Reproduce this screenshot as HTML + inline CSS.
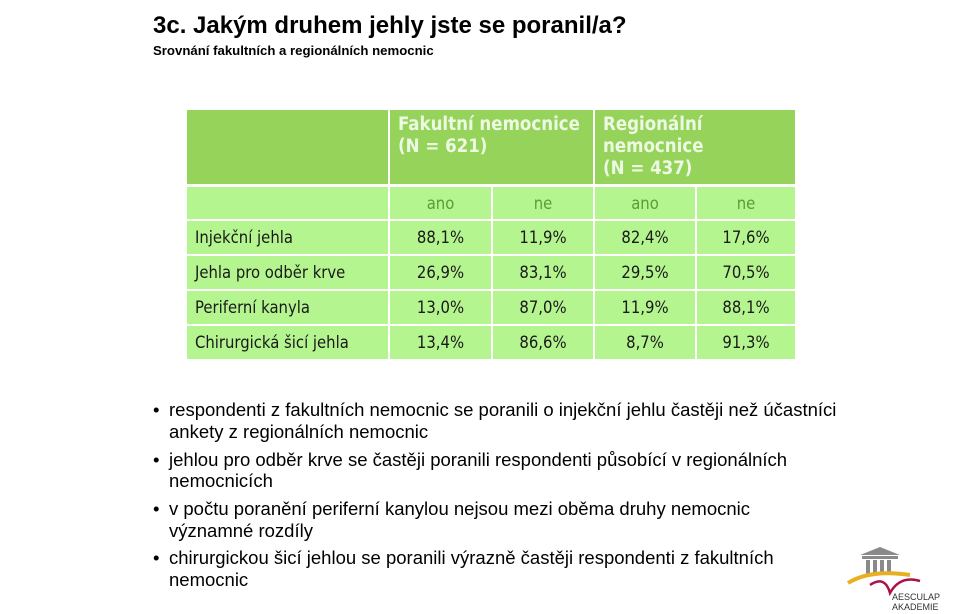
<!DOCTYPE html>
<html><head><meta charset="utf-8">
<style>
body{margin:0;width:960px;height:614px;background:#fff;position:relative;overflow:hidden;font-family:"Liberation Sans",sans-serif;}
.title{position:absolute;left:153px;top:12px;font-size:24px;font-weight:bold;color:#000;}
.sub{position:absolute;left:153px;top:43px;font-size:13.2px;font-weight:bold;color:#000;}
.cell{position:absolute;font-family:"DejaVu Sans Condensed","DejaVu Sans",sans-serif;font-size:16.5px;display:flex;align-items:center;box-sizing:border-box;}
.hd{background:#95d35a;color:#eef9e4;font-weight:bold;font-size:18.5px;align-items:flex-start;padding:4px 0 0 8px;line-height:22px;}
.bd{background:#b5f58f;color:#1a1a1a;justify-content:center;}
.lbl{justify-content:flex-start;padding-left:8px;}
.sh{color:#5c9c33;}
.bul{position:absolute;left:153px;font-size:18.5px;color:#000;white-space:nowrap;}
.bul span.d{display:inline-block;width:16px;}
</style></head><body>
<div class="title">3c. Jakým druhem jehly jste se poranil/a?</div>
<div class="sub">Srovnání fakultních a regionálních nemocnic</div>
<div id="tbl"></div>
<div>
<div class="bul" style="top:399px"><span class="d">•</span>respondenti z fakultních nemocnic se poranili o injekční jehlu častěji než účastníci</div>
<div class="bul" style="top:421px;left:169px">ankety z regionálních nemocnic</div>
<div class="bul" style="top:449px"><span class="d">•</span>jehlou pro odběr krve se častěji poranili respondenti působící v regionálních</div>
<div class="bul" style="top:470px;left:169px">nemocnicích</div>
<div class="bul" style="top:498px"><span class="d">•</span>v počtu poranění periferní kanylou nejsou mezi oběma druhy nemocnic</div>
<div class="bul" style="top:520px;left:169px">významné rozdíly</div>
<div class="bul" style="top:547px"><span class="d">•</span>chirurgickou šicí jehlou se poranili výrazně častěji respondenti z fakultních</div>
<div class="bul" style="top:569px;left:169px">nemocnic</div>
</div>
<svg style="position:absolute;left:840px;top:545px" width="110" height="68">
<polygon points="20,10 40,2 60,10" fill="#8a8a8a"/>
<rect x="22" y="11" width="36" height="3" fill="#8a8a8a"/>
<rect x="26" y="15" width="4" height="14" fill="#8a8a8a"/><rect x="33" y="15" width="4" height="14" fill="#8a8a8a"/><rect x="40" y="15" width="4" height="14" fill="#8a8a8a"/><rect x="47" y="15" width="4" height="14" fill="#8a8a8a"/>
<path d="M8,38 Q30,24 70,30" stroke="#e8b020" stroke-width="4" fill="none"/>
<path d="M30,40 Q45,30 50,48 Q60,30 80,36" stroke="#b0104a" stroke-width="2.5" fill="none"/>
<text x="52" y="55" font-size="9" fill="#333" font-family="Liberation Sans">AESCULAP</text>
<text x="52" y="65" font-size="9" fill="#333" font-family="Liberation Sans">AKADEMIE</text>
</svg>
<script>
const rowLabels=["Injekční jehla","Jehla pro odběr krve","Periferní kanyla","Chirurgická šicí jehla"];
const fakAno=["88,1%","26,9%","13,0%","13,4%"];
const fakNe=["11,9%","83,1%","87,0%","86,6%"];
const regAno=["82,4%","29,5%","11,9%","8,7%"];
const regNe=["17,6%","70,5%","88,1%","91,3%"];
const subHeads=["ano","ne","ano","ne"];
const cols=[187,390,493,595,697,795];
const t=document.getElementById('tbl');
function cell(x,y,w,h,cls,txt,name){const d=document.createElement('div');d.className='cell '+cls;d.style.left=x+'px';d.style.top=y+'px';d.style.width=w+'px';d.style.height=h+'px';d.textContent=txt;


t.appendChild(d);return d;}
const g=2;
cell(cols[0],110,cols[1]-cols[0]-g,74,'hd','','header-blank');
cell(cols[1],110,cols[3]-cols[1]-g,74,'hd','','header-fakultni').innerHTML='Fakultní nemocnice<br>(N = 621)';
cell(cols[3],110,cols[5]-cols[3],74,'hd','','header-regionalni').innerHTML='Regionální<br>nemocnice<br>(N = 437)';
let y=187;
cell(cols[0],y,cols[1]-cols[0]-g,32,'bd lbl','','subheader-blank');
subHeads.forEach((s,i)=>cell(cols[i+1],y,cols[i+2]-cols[i+1]-(i<3?g:0),32,'bd sh',s,'subheader-'+s));
y=221;
rowLabels.forEach((l,r)=>{const vals=[fakAno[r],fakNe[r],regAno[r],regNe[r]];
cell(cols[0],y,cols[1]-cols[0]-g,33,'bd lbl',l,'row-label');
vals.forEach((v,i)=>cell(cols[i+1],y,cols[i+2]-cols[i+1]-(i<3?g:0),33,'bd',v,'value-cell'));
y+=35;});
</script>
</body></html>
